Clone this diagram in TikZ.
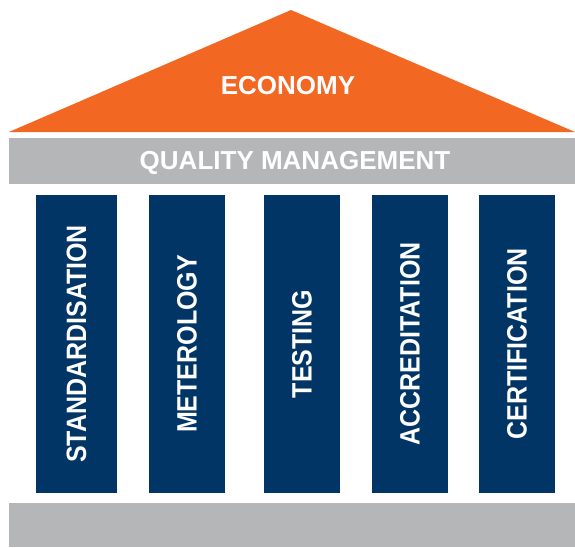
\documentclass[tikz,border=0pt]{standalone}
\usepackage{fontspec}
\setmainfont{Liberation Sans}
\definecolor{roof}{HTML}{F26722}
\definecolor{slab}{HTML}{B5B6B8}
\definecolor{pillar}{HTML}{003566}
\newcommand{\tallcaps}[1]{\scalebox{1}[1.12]{#1}}
\begin{document}
\begin{tikzpicture}[x=1pt,y=-1pt,
  label text/.style={text=white,font=\bfseries\fontsize{26}{26}\selectfont},
  pillar text/.style={text=white,font=\bfseries\fontsize{25}{25}\selectfont,rotate=90},
  pillarbox/.style={fill=pillar,draw=none}]
\useasboundingbox (0,0) rectangle (575,547);
% roof
\fill[roof] (9,132) -- (291,10) -- (575,132) -- cycle;
\node[label text] (econ) at (288,86) {ECONOMY};
% quality management slab
\fill[slab] (9,138) rectangle (575,184);
\node[label text] (qm) at (295,163) {QUALITY MANAGEMENT};
% pillars
\foreach \xa/\xb/\name/\txt in {36/117/p1/STANDARDISATION,149/225/p2/METEROLOGY,264/340/p3/TESTING,372/448/p4/ACCREDITATION,479/555/p5/CERTIFICATION}{
  \fill[pillarbox] (\xa,195) rectangle (\xb,493);
  \node[pillar text] (\name) at ({(\xa+\xb)/2},344) {\tallcaps{\txt}};
}
% base slab
\fill[slab] (9,503) rectangle (575,547);
\end{tikzpicture}
\end{document}
